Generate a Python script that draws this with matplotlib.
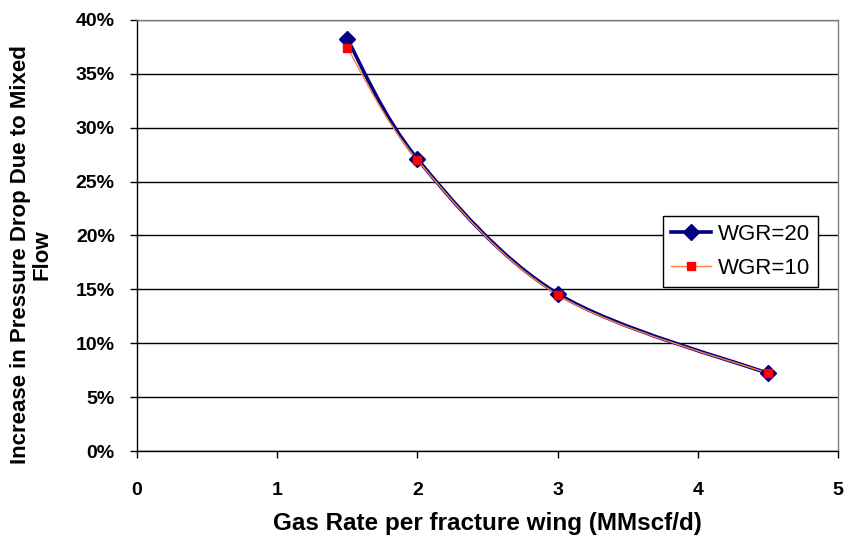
import numpy as np
import matplotlib
matplotlib.use("Agg")
import matplotlib.pyplot as plt
from matplotlib.path import Path
from matplotlib.patches import PathPatch
from matplotlib.lines import Line2D
from matplotlib.ticker import PercentFormatter

plt.rcParams['font.family'] = ['Liberation Sans', 'DejaVu Sans']

gas_rate = [1.5, 2.0, 3.0, 4.5]
wgr20 = [38.2, 27.1, 14.6, 7.2]
wgr10 = [37.4, 27.0, 14.5, 7.2]
x_ticks = [0, 1, 2, 3, 4, 5]
y_ticks = [0, 5, 10, 15, 20, 25, 30, 35, 40]


def smooth_path(xs, ys):
    """Catmull-Rom style Bezier path through the points (like a smoothed line)."""
    pts = np.column_stack([xs, ys]).astype(float)
    n = len(pts)
    verts = [pts[0]]
    codes = [Path.MOVETO]
    for i in range(n - 1):
        p0 = pts[i - 1] if i > 0 else pts[i]
        p1 = pts[i]
        p2 = pts[i + 1]
        p3 = pts[i + 2] if i + 2 < n else pts[i + 1]
        c1 = p1 + (p2 - p0) / 6.0
        c2 = p2 - (p3 - p1) / 6.0
        verts += [c1, c2, p2]
        codes += [Path.CURVE4] * 3
    return Path(verts, codes)


fig = plt.figure(figsize=(8.48, 5.4), dpi=100)
ax = fig.add_axes([0.1616, 0.1648, 0.8266, 0.7982])

navy = '#000080'
orange = '#FF8040'

ax.add_patch(PathPatch(smooth_path(gas_rate, wgr20), fill=False,
                       edgecolor=navy, lw=2.6, zorder=3))
ax.add_patch(PathPatch(smooth_path(gas_rate, wgr10), fill=False,
                       edgecolor=orange, lw=1.0, zorder=4))
ax.plot(gas_rate, wgr20, linestyle='none', marker='D', ms=8.5,
        color=navy, zorder=5)
ax.plot(gas_rate, wgr10, linestyle='none', marker='s', ms=6,
        color='#FF0000', zorder=6)

ax.set_xlim(0, 5)
ax.set_ylim(0, 40)
ax.set_xticks(x_ticks)
ax.set_yticks(y_ticks)
ax.yaxis.set_major_formatter(PercentFormatter(decimals=0))

ax.grid(axis='y', color='black', lw=1.0)
ax.set_axisbelow(True)
for side in ['left', 'bottom']:
    ax.spines[side].set_color('black')
    ax.spines[side].set_linewidth(1.0)
for side in ['top', 'right']:
    ax.spines[side].set_color('#808080')
    ax.spines[side].set_linewidth(1.0)

ax.tick_params(direction='out', length=5, width=1, colors='black',
               labelsize=14)
ax.tick_params(axis='x', pad=17)
ax.tick_params(axis='y', pad=11)
for lab in ax.get_xticklabels() + ax.get_yticklabels():
    lab.set_fontweight('bold')

ax.set_xlabel('Gas Rate per fracture wing (MMscf/d)', fontsize=17.5,
              fontweight='bold', labelpad=10)
ax.set_ylabel('Increase in Pressure Drop Due to Mixed\nFlow', fontsize=16,
              fontweight='bold', linespacing=1.0)
ax.yaxis.set_label_coords(-0.121, 0.455)

handles = [
    Line2D([], [], color=navy, lw=2.6, marker='D', ms=8.5),
    Line2D([], [], color=orange, lw=1.0, marker='s', ms=6,
           markerfacecolor='#FF0000', markeredgecolor='#FF0000'),
]
leg = ax.legend(handles, ['WGR=20', 'WGR=10'], loc='upper left',
                bbox_to_anchor=(0.751, 0.545), fontsize=16, frameon=True,
                fancybox=False, edgecolor='black', framealpha=1,
                handlelength=1.8, handletextpad=0.3, borderpad=0.35,
                labelspacing=0.6, borderaxespad=0)
leg.get_frame().set_linewidth(1.0)

fig.savefig('out.png', dpi=100, facecolor='white')
